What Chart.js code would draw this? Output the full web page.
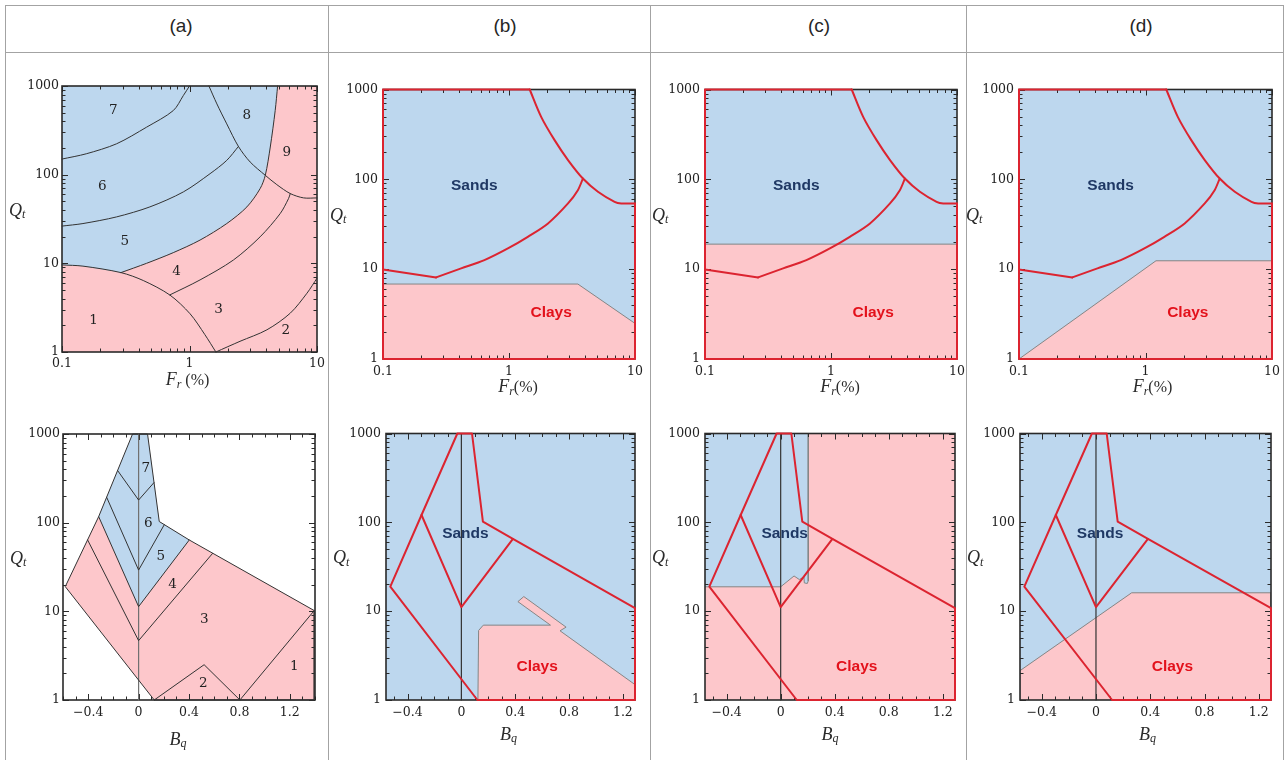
<!DOCTYPE html>
<html>
<head>
<meta charset="utf-8">
<title>Soil behaviour type charts (a)–(d)</title>
<script src="https://cdn.jsdelivr.net/npm/chart.js@4.4.1/dist/chart.umd.min.js"></script>
<style>
  html,body{margin:0;padding:0;background:#fff;}
  body{position:relative;width:1287px;height:760px;overflow:hidden;font-family:"Liberation Sans",Arial,sans-serif;}
  .vl{position:absolute;top:5px;height:755px;width:1px;background:#a3a3a3;}
  .hl{position:absolute;left:5px;width:1279px;height:1px;background:#a3a3a3;}
  .hd{position:absolute;top:15px;font-size:19px;color:#262626;transform:translateX(-50%);white-space:nowrap;}
  canvas{position:absolute;}
</style>
</head>
<body>
<div class="hl" style="top:5px"></div>
<div class="hl" style="top:52px"></div>
<div class="vl" style="left:5px"></div>
<div class="vl" style="left:328px"></div>
<div class="vl" style="left:650px"></div>
<div class="vl" style="left:966px"></div>
<div class="vl" style="left:1283px"></div>
<script>
// ---------------- values ----------------
const panelHeaders = ['(a)', '(b)', '(c)', '(d)'];

const qtTicks = [1, 10, 100, 1000];
const qtTickLabels = ['1', '10', '100', '1000'];
const frTicks = [0.1, 1, 10];
const frTickLabels = ['0.1', '1', '10'];
const bqTicks = [-0.4, 0, 0.4, 0.8, 1.2];
const bqTickLabels = ['\u22120.4', '0', '0.4', '0.8', '1.2'];

const qtRange = [1, 1000];
const frRange = [0.1, 10];
const bqRangeA = [-0.6, 1.4];
const bqRangeBCD = [-0.56, 1.29];

// (a) upper: zone boundaries [Fr %, Qt]
const aFrLine1 = [[0.1,9.6],[0.146,9.3],[0.29,7.86],[0.434,6.4],[0.70,4.4],[1.01,2.7],[1.32,1.57],[1.61,1]];
const aFrLine2 = [[0.29,7.86],[0.46,10],[0.746,13.2],[1.21,18.3],[1.96,28.1],[2.82,43.3],[3.58,69.6],[3.93,98.3],[4.30,205],[4.70,528],[4.91,1000]];
const aFrLine3 = [[1.42,1000],[1.64,628],[1.96,374],[2.42,208],[2.99,139],[3.93,98.3],[4.84,77.2],[6.17,61.2],[7.85,54.7],[10,54.7]];
const aFrLine4 = [[0.70,4.4],[1.21,6.5],[2.21,10.9],[3.58,19.9],[5.15,36.5],[5.98,53.7],[6.17,61.2]];
const aFrLine5 = [[1.61,1],[2.49,1.32],[4.05,1.78],[6.17,2.74],[8.34,4.6],[10,6.8]];
const aFrLine6 = [[0.1,26.3],[0.146,28.1],[0.268,33.4],[0.489,43.3],[0.895,63.9],[1.45,102.6],[1.96,145],[2.42,208]];
const aFrLine7 = [[0.1,150],[0.155,172],[0.268,223],[0.46,343],[0.746,528],[0.894,779],[1.0,1000]];
const aFrZoneNames = ['1','2','3','4','5','6','7','8','9'];
const aFrZoneFr = [0.177, 5.7, 1.69, 0.792, 0.311, 0.207, 0.252, 2.82, 5.8];
const aFrZoneQt = [2.25, 1.75, 3.04, 8.06, 17.8, 72.7, 528, 464, 180];

// (a) lower: zone boundaries [Bq, Qt]
const aBqOutline = [[0.124,1],[-0.582,19],[-0.317,117],[-0.048,1000],[0.071,1000],[0.164,103],[0.402,63.8],[1.394,10.2],[1.394,1],[0.124,1]];
const aBqSandZone = [[0,11.3],[-0.317,117],[-0.048,1000],[0.071,1000],[0.164,103],[0.402,63.8],[0,11.3]];
const aBqLine67 = [[-0.167,388],[0,180],[0.122,283]];
const aBqLine56 = [[-0.254,194],[0,29.2],[0.204,94.9]];
const aBqLine45 = [[-0.317,117],[0,11.3],[0.402,63.8]];
const aBqLine34 = [[-0.405,64],[0,4.67],[0.587,45]];
const aBqLine2 = [[0.124,1],[0.52,2.5],[0.804,1]];
const aBqLine1 = [[0.804,1],[1.394,10.2]];
const bqAxisZero = [[0,1],[0,1000]];
const aBqZoneNames = ['1','2','3','4','5','6','7'];
const aBqZoneBq = [1.235, 0.513, 0.521, 0.27, 0.177, 0.077, 0.058];
const aBqZoneQt = [2.38, 1.54, 7.99, 20.3, 41.4, 96.6, 410];

// (b)-(d) upper: red classification boundaries [Fr %, Qt]
const frRedStep = [[0.1,9.94],[0.264,8.1]];
const frRedLower = [[0.264,8.1],[0.417,10.2],[0.638,12.6],[0.98,17.0],[1.41,22.9],[2.04,32.3],[2.94,53.9],[3.52,75.8],[3.86,102]];
const frRedUpper = [[1.46,1000],[1.80,496],[2.30,273],[2.94,164],[3.86,102],[5.08,72.7],[6.89,56.2],[7.78,53.9],[10,53.9]];
const frRedFrame = [[1.46,1000],[0.1,1000],[0.1,1],[10,1],[10,53.9]];
const bClayFr = [[0.1,1],[0.1,6.83],[3.52,6.83],[10,2.49],[10,1]];
const cClayFr = [[0.1,1],[0.1,19],[10,19],[10,1]];
const dClayFr = [[0.1,1],[1.21,12.4],[10,12.4],[10,1]];
const frSandsAt = [0.53, 84];
const frClaysAt = [2.16, 3.3];

// (b)-(d) lower: red classification boundaries [Bq, Qt]
const bqRedOutline = [[0.119,1],[-0.528,18.9],[-0.296,121],[-0.030,1000],[0.079,1000],[0.160,102],[0.383,65],[1.29,10.8],[1.29,1],[0.119,1]];
const bqRedInner = [[-0.296,121],[0,11.1],[0.383,65]];
const bClayBq = [[0.123,1],[0.128,6.06],[0.163,6.96],[0.662,6.96],[0.420,12.8],[0.464,14.6],[0.778,6.61],[0.733,6.01],[1.29,1.49],[1.29,1]];
const cSandBq = [[-0.56,1000],[0.204,1000],[0.204,21.9],[0.197,20.5],[0.175,20.8],[0.172,24.3],[0.138,22.7],[0.099,24.9],[0,18.8],[-0.56,18.8]];
const dClayBq = [[-0.56,1],[-0.56,2.14],[0.263,16.1],[1.29,16.1],[1.29,1]];
const bqSandsAt = [0.03, 75];
const bqClaysAt = [0.563, 2.39];

// ---------------- styling / layout ----------------
const BLUE = '#bdd7ee', PINK = '#fdc7cb', RED = '#dc2430', DARK = '#333333', GRAY = '#858585';
const NAVY = '#1f3864', CLAYRED = '#e3111b';
const TICKFONT = {family: 'DejaVu Serif', size: 12.5};
const NUMFONT = '13.5px "DejaVu Serif"';
const BIGFONT = 'bold 15.5px "Liberation Sans"';
const MI = 'italic 18px "Liberation Serif"', MS = 'italic 12px "Liberation Serif"', MR = '16px "Liberation Serif"';
const PAD_T = 12, PAD_R = 14, YW = 60, XH = 50;

const headerX = [181, 505, 819, 1141];
panelHeaders.forEach((h, i) => {
  const d = document.createElement('div');
  d.className = 'hd'; d.style.left = headerX[i] + 'px'; d.textContent = h;
  document.body.appendChild(d);
});

const xy = arr => arr.map(([x, y]) => ({x, y}));
const box = (xr, yr) => [[xr[0], yr[0]], [xr[1], yr[0]], [xr[1], yr[1]], [xr[0], yr[1]]];
const fillDS = (arr, color, order, edge, frameAfter) => ({
  data: xy(arr), showLine: true, pointRadius: 0, tension: 0, fill: 'shape',
  backgroundColor: color, borderColor: edge || 'rgba(0,0,0,0)', borderWidth: edge ? 1 : 0,
  order, frameAfter: !!frameAfter
});
const lineDS = (arr, color, width, order, tension) => ({
  data: xy(arr), showLine: true, pointRadius: 0, tension: tension || 0, fill: false,
  borderColor: color, borderWidth: width, order, clip: false,
  borderJoinStyle: 'round', borderCapStyle: 'round'
});
const labelsFrom = (names, xs, ys, font, color) => names.map((t, i) => ({text: t, at: [xs[i], ys[i]], font, color}));

function tickMarks(scale) {
  const out = [];
  if (scale.type === 'logarithmic') {
    for (let e = Math.floor(Math.log10(scale.min) + 1e-9); e <= Math.log10(scale.max) + 1e-9; e++) {
      for (let k = 1; k <= 9; k++) {
        const v = k * Math.pow(10, e);
        if (v >= scale.min * 0.999 && v <= scale.max * 1.001) out.push([v, k === 1]);
      }
    }
  } else {
    for (let i = Math.ceil(scale.min * 10 - 1e-6); i <= Math.floor(scale.max * 10 + 1e-6); i++) {
      out.push([i / 10, i % 4 === 0]);
    }
  }
  return out;
}

const framePlugin = {
  id: 'frameTicks',
  afterDatasetDraw(chart, args) {
    if (!chart.data.datasets[args.index].frameAfter) return;
    const {ctx, chartArea: a, scales: {x, y}} = chart;
    ctx.save();
    ctx.strokeStyle = '#2a2a2a';
    ctx.lineWidth = 1;
    ctx.beginPath();
    tickMarks(x).forEach(([v, major]) => {
      const p = Math.round(x.getPixelForValue(v)) + 0.5, len = major ? 6 : 3.5;
      ctx.moveTo(p, a.bottom); ctx.lineTo(p, a.bottom - len);
      ctx.moveTo(p, a.top); ctx.lineTo(p, a.top + len);
    });
    tickMarks(y).forEach(([v, major]) => {
      const p = Math.round(y.getPixelForValue(v)) + 0.5, len = major ? 6 : 3.5;
      ctx.moveTo(a.left, p); ctx.lineTo(a.left + len, p);
      ctx.moveTo(a.right, p); ctx.lineTo(a.right - len, p);
    });
    ctx.stroke();
    ctx.lineWidth = 1.6;
    ctx.strokeRect(a.left, a.top, a.right - a.left, a.bottom - a.top);
    ctx.restore();
  }
};

function drawMath(ctx, x, y, parts, center) {
  let total = 0;
  parts.forEach(p => { ctx.font = p[1]; total += ctx.measureText(p[0]).width; });
  let cx = center ? x - total / 2 : x;
  ctx.textAlign = 'left';
  parts.forEach(p => { ctx.font = p[1]; ctx.fillText(p[0], cx, y + (p[2] || 0)); cx += ctx.measureText(p[0]).width; });
}

function overlay(items, t) {
  return {
    id: 'overlay',
    afterDatasetsDraw(chart) {
      const {ctx, chartArea: a, scales: {x, y}} = chart;
      ctx.save();
      ctx.textBaseline = 'middle';
      items.forEach(it => {
        ctx.textAlign = 'center'; ctx.font = it.font; ctx.fillStyle = it.color;
        ctx.fillText(it.text, x.getPixelForValue(it.at[0]), y.getPixelForValue(it.at[1]));
      });
      ctx.fillStyle = '#2b2b2b';
      drawMath(ctx, a.left - 53, (a.top + a.bottom) / 2 - 8, [['Q', MI], ['t', MS, 4]], false);
      const cx = (a.left + a.right) / 2 + t.dx;
      if (t.kind === 'fr') {
        drawMath(ctx, cx, a.bottom + 28.5, [['F', MI], ['r', MS, 4], [t.space ? ' (%)' : '(%)', MR]], true);
      } else {
        drawMath(ctx, cx, a.bottom + t.dy, [['B', MI], ['q', MS, 4]], true);
      }
      ctx.restore();
    }
  };
}

function build(b, kind, xr, datasets, items, t, pads) {
  const c = document.createElement('canvas');
  const w = b.R - b.L + YW + PAD_R, h = b.B - b.T + PAD_T + XH;
  c.width = w; c.height = h;
  c.style.width = w + 'px'; c.style.height = h + 'px';
  c.style.left = (b.L - YW) + 'px'; c.style.top = (b.T - PAD_T) + 'px';
  document.body.appendChild(c);
  const isFr = kind === 'fr';
  const xTickVals = isFr ? frTicks : bqTicks;
  const xTickText = isFr ? frTickLabels : bqTickLabels;
  t.kind = kind;
  new Chart(c, {
    type: 'scatter',
    data: {datasets},
    options: {
      responsive: false, animation: false, devicePixelRatio: 1,
      layout: {padding: {top: PAD_T, right: PAD_R, left: 0, bottom: 0}},
      plugins: {legend: {display: false}, tooltip: {enabled: false}},
      scales: {
        x: {
          type: isFr ? 'logarithmic' : 'linear', min: xr[0], max: xr[1],
          afterBuildTicks: s => { s.ticks = xTickVals.map(v => ({value: v})); },
          afterFit: s => { s.height = XH; },
          grid: {display: false, drawTicks: false}, border: {display: false},
          ticks: {autoSkip: false, maxRotation: 0, minRotation: 0, padding: pads[0], color: '#222', font: TICKFONT,
                  callback: (v, i) => xTickText[i]}
        },
        y: {
          type: 'logarithmic', min: qtRange[0], max: qtRange[1],
          afterBuildTicks: s => { s.ticks = qtTicks.map(v => ({value: v})); },
          afterFit: s => { s.width = YW; },
          grid: {display: false, drawTicks: false}, border: {display: false},
          ticks: {autoSkip: false, padding: pads[1], color: '#222', font: TICKFONT,
                  callback: (v, i) => qtTickLabels[i]}
        }
      }
    },
    plugins: [framePlugin, overlay(items, t)]
  });
}

const frBox = box(frRange, qtRange);
const bqBox = box(bqRangeBCD, qtRange);
const aFrSand = [[frRange[0], qtRange[1]], ...aFrLine2.slice().reverse(), ...aFrLine1.slice(0, 2).reverse()];
const redFr = () => [lineDS(frRedFrame, RED, 2, 1), lineDS(frRedStep, RED, 2, 1), lineDS(frRedLower, RED, 2, 1, 0.3), lineDS(frRedUpper, RED, 2, 1, 0.3)];
const redBq = () => [lineDS(bqRedOutline, RED, 2, 1), lineDS(bqRedInner, RED, 2, 1)];
const frText = () => [{text: 'Sands', at: frSandsAt, font: BIGFONT, color: NAVY}, {text: 'Clays', at: frClaysAt, font: BIGFONT, color: CLAYRED}];
const bqText = () => [{text: 'Sands', at: bqSandsAt, font: BIGFONT, color: NAVY}, {text: 'Clays', at: bqClaysAt, font: BIGFONT, color: CLAYRED}];

// (a) top
build({L:62, T:86, R:317, B:352}, 'fr', frRange, [
  fillDS(frBox, PINK, 10), fillDS(aFrSand, BLUE, 9, null, true),
  ...[aFrLine1, aFrLine2, aFrLine3, aFrLine4, aFrLine5, aFrLine6, aFrLine7].map(l => lineDS(l, DARK, 1, 2, 0.3))
], labelsFrom(aFrZoneNames, aFrZoneFr, aFrZoneQt, NUMFONT, '#222'), {dx: -2, space: true}, [4, 3]);

// (a) bottom
build({L:63, T:434, R:315, B:700}, 'bq', bqRangeA, [
  fillDS(aBqOutline, PINK, 10), fillDS(aBqSandZone, BLUE, 9, null, true),
  lineDS(bqAxisZero, '#707070', 1.2, 3),
  ...[aBqOutline, aBqLine67, aBqLine56, aBqLine45, aBqLine34, aBqLine2, aBqLine1].map(l => lineDS(l, DARK, 1, 2))
], labelsFrom(aBqZoneNames, aBqZoneBq, aBqZoneQt, NUMFONT, '#222'), {dx: -11, dy: 40}, [5, 3]);

// (b)
build({L:383, T:89, R:635, B:359}, 'fr', frRange, [fillDS(frBox, BLUE, 10), fillDS(bClayFr, PINK, 9, GRAY, true), ...redFr()], frText(), {dx: 9}, [5, 5]);
build({L:386, T:433, R:635, B:700}, 'bq', bqRangeBCD, [fillDS(bqBox, BLUE, 10), fillDS(bClayBq, PINK, 9, GRAY, true), lineDS(bqAxisZero, DARK, 1.2, 3), ...redBq()], bqText(), {dx: -2, dy: 35}, [5, 5]);

// (c)
build({L:705, T:89, R:957, B:359}, 'fr', frRange, [fillDS(frBox, BLUE, 10), fillDS(cClayFr, PINK, 9, GRAY, true), ...redFr()], frText(), {dx: 9}, [5, 5]);
build({L:705, T:433, R:955, B:700}, 'bq', bqRangeBCD, [fillDS(bqBox, PINK, 10), fillDS(cSandBq, BLUE, 9, GRAY, true), lineDS(bqAxisZero, DARK, 1.2, 3), ...redBq()], bqText(), {dx: 0, dy: 35}, [5, 5]);

// (d)
build({L:1019, T:89, R:1272, B:359}, 'fr', frRange, [fillDS(frBox, BLUE, 10), fillDS(dClayFr, PINK, 9, GRAY, true), ...redFr()], frText(), {dx: 7}, [5, 5]);
build({L:1020, T:433, R:1271, B:700}, 'bq', bqRangeBCD, [fillDS(bqBox, BLUE, 10), fillDS(dClayBq, PINK, 9, GRAY, true), lineDS(bqAxisZero, DARK, 1.2, 3), ...redBq()], bqText(), {dx: 2, dy: 35}, [5, 5]);
</script>
</body>
</html>
